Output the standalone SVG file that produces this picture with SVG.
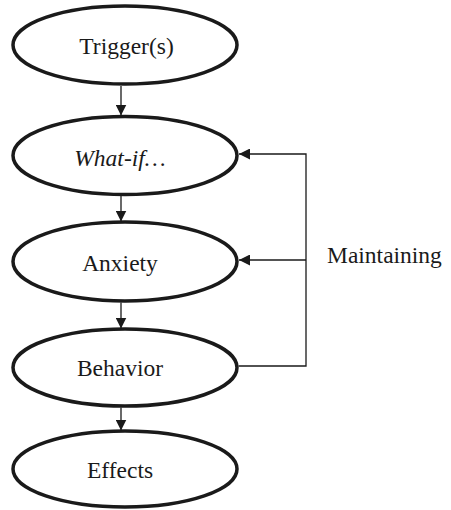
<svg xmlns="http://www.w3.org/2000/svg" width="451" height="510" viewBox="0 0 451 510">
  <style>
    .node ellipse { fill: #ffffff; stroke: #1a1a1a; stroke-width: 3.5; }
    .serif { font-family: 'Liberation Serif', Tinos, 'DejaVu Serif', serif; font-size: 23.5px; fill: #1a1a1a; }
    .node text { text-anchor: middle; }
    .conn { fill: none; stroke: #1a1a1a; stroke-width: 1.3; }
  </style>
  <defs>
    <marker id="arrow" markerUnits="userSpaceOnUse" markerWidth="12" markerHeight="11" refX="11" refY="5.5" orient="auto">
      <path d="M0,0 L11,5.5 L0,11 Z" fill="#1a1a1a"/>
    </marker>
  </defs>
  <rect width="451" height="510" fill="#ffffff"/>

  <g id="trigger" class="node">
    <ellipse cx="125" cy="45" rx="112" ry="39"/>
    <text class="serif" x="126.5" y="54">Trigger(s)</text>
  </g>
  <g id="whatif" class="node">
    <ellipse cx="125" cy="155.5" rx="112" ry="39"/>
    <text class="serif" x="120" y="165.5" font-style="italic">What-if…</text>
  </g>
  <g id="anxiety" class="node">
    <ellipse cx="125" cy="261.5" rx="112" ry="39.5"/>
    <text class="serif" x="120" y="270.5">Anxiety</text>
  </g>
  <g id="behavior" class="node">
    <ellipse cx="125" cy="367.5" rx="112" ry="38.5"/>
    <text class="serif" x="120" y="375.5">Behavior</text>
  </g>
  <g id="effects" class="node">
    <ellipse cx="125" cy="469" rx="112" ry="38"/>
    <text class="serif" x="120" y="478">Effects</text>
  </g>

  <g id="connectors">
    <line class="conn" x1="121" y1="86" x2="121" y2="115.5" marker-end="url(#arrow)"/>
    <line class="conn" x1="121" y1="196" x2="121" y2="221.5" marker-end="url(#arrow)"/>
    <line class="conn" x1="121" y1="302.5" x2="121" y2="328.5" marker-end="url(#arrow)"/>
    <line class="conn" x1="121" y1="407.5" x2="121" y2="430.5" marker-end="url(#arrow)"/>
    <!-- maintaining loop from Behavior back to What-if and Anxiety -->
    <polyline class="conn" points="238.5,366 306,366 306,154 239,154" marker-end="url(#arrow)"/>
    <line class="conn" x1="306" y1="260" x2="239" y2="260" marker-end="url(#arrow)"/>
  </g>

  <text class="serif" x="327" y="263">Maintaining</text>
</svg>
